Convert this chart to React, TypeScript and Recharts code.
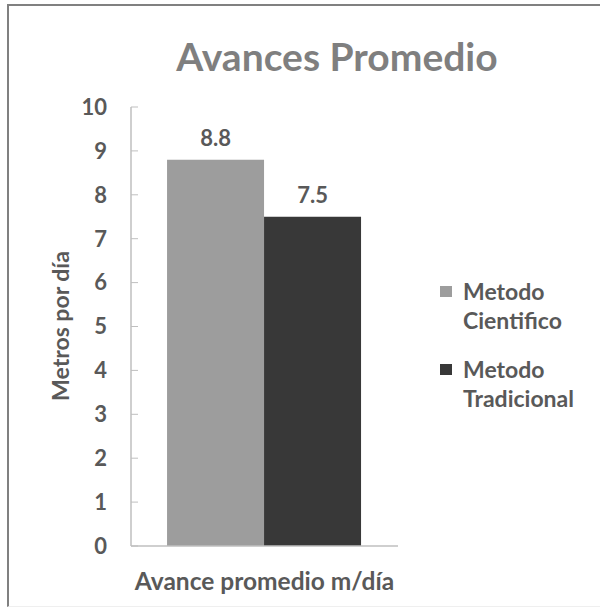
import { BarChart, Bar, XAxis, YAxis, LabelList } from 'recharts';

// Average advance per day, two methods
const categories = ['Avance promedio m/día'];
const cientifico = [8.8];
const tradicional = [7.5];
const yTicks = [0, 1, 2, 3, 4, 5, 6, 7, 8, 9, 10];

const seriesNames = ['Metodo Cientifico', 'Metodo Tradicional'];
const seriesColors = ['#9d9d9d', '#383838'];

const FONT = 'Lato, "Open Sans", sans-serif';
const TEXT = '#595959';

const data = categories.map((name, i) => ({
  name,
  cientifico: cientifico[i],
  tradicional: tradicional[i],
}));

// Legend with each label wrapped onto two lines
const ChartLegend = () => (
  <div
    style={{
      position: 'absolute',
      left: 440,
      top: 277,
      width: 160,
      fontFamily: FONT,
      fontWeight: 700,
      fontSize: 23,
      color: TEXT,
    }}
  >
    {seriesNames.map((s, i) => {
      const [first, ...rest] = s.split(' ');
      return (
        <div key={s} style={{ display: 'flex', alignItems: 'flex-start', marginBottom: 20 }}>
          <span
            style={{
              display: 'inline-block',
              width: 12,
              height: 11,
              background: seriesColors[i],
              marginTop: 9,
              marginRight: 11,
            }}
          />
          <div style={{ lineHeight: '29px' }}>
            <div>{first}</div>
            <div>{rest.join(' ')}</div>
          </div>
        </div>
      );
    })}
  </div>
);

const CategoryTick = ({ x, y, payload }: any) => (
  <text
    x={x}
    y={y}
    dy={14}
    textAnchor="middle"
    fill={TEXT}
    fontFamily={FONT}
    fontWeight={700}
    fontSize={24.5}
  >
    {payload.value}
  </text>
);

export default function App() {
  return (
    <div style={{ position: 'absolute', left: 0, top: 0, width: 600, height: 609, background: '#fff' }}>
      <div
        style={{
          position: 'absolute',
          left: 7,
          top: 4,
          width: 600,
          height: 603,
          borderTop: '2px solid #808080',
          borderLeft: '2px solid #808080',
          borderBottom: '1px solid #efefef',
          boxSizing: 'border-box',
        }}
      />
      <div
        style={{
          position: 'absolute',
          left: 0,
          top: 32,
          width: 674,
          textAlign: 'center',
          fontFamily: FONT,
          fontWeight: 700,
          fontSize: 39,
          color: '#7f7f7f',
          lineHeight: '48px',
        }}
      >
        Avances Promedio
      </div>
      <BarChart
        width={600}
        height={609}
        data={data}
        margin={{ top: 107, right: 202, bottom: 0, left: 71 }}
        barGap={0}
        barCategoryGap="13.5%"
        style={{ position: 'absolute', left: 0, top: 0 }}
      >
        <XAxis
          dataKey="name"
          axisLine={{ stroke: '#bfbfbf', strokeWidth: 1.5 }}
          tickLine={false}
          tickMargin={24}
          tick={<CategoryTick />}
          height={63}
        />
        <YAxis
          domain={[0, 10]}
          ticks={yTicks}
          width={60}
          axisLine={{ stroke: '#bfbfbf', strokeWidth: 1.5 }}
          tickLine={{ stroke: '#bfbfbf', transform: 'translate(7,0)' }}
          tickSize={7}
          tickMargin={17}
          tick={{ fill: TEXT, fontFamily: FONT, fontWeight: 700, fontSize: 22 }}
          label={{
            content: () => (
              <text
                x={60}
                y={326}
                transform="rotate(-90 60 326)"
                textAnchor="middle"
                dominantBaseline="central"
                fill={TEXT}
                fontFamily={FONT}
                fontWeight={700}
                fontSize={23}
              >
                Metros por día
              </text>
            ),
          }}
        />
        <Bar dataKey="cientifico" name={seriesNames[0]} fill={seriesColors[0]} isAnimationActive={false}>
          <LabelList
            dataKey="cientifico"
            position="top"
            offset={14}
            fill={TEXT}
            fontFamily={FONT}
            fontWeight={700}
            fontSize={22}
          />
        </Bar>
        <Bar dataKey="tradicional" name={seriesNames[1]} fill={seriesColors[1]} isAnimationActive={false}>
          <LabelList
            dataKey="tradicional"
            position="top"
            offset={14}
            fill={TEXT}
            fontFamily={FONT}
            fontWeight={700}
            fontSize={22}
          />
        </Bar>
      </BarChart>
      <ChartLegend />
    </div>
  );
}
